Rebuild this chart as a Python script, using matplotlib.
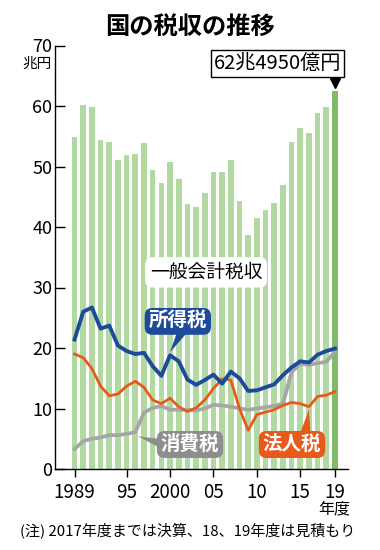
import numpy as np
import matplotlib.pyplot as plt
from matplotlib.patches import Polygon

plt.rcParams['font.family'] = ['Noto Sans CJK JP', 'DejaVu Sans']

# --- data (兆円, 年度)
years = list(range(1989, 2020))
total = [54.9, 60.1, 59.8, 54.4, 54.1, 51.0, 51.9, 52.1, 53.9, 49.4,
         47.2, 50.7, 47.9, 43.8, 43.3, 45.6, 49.1, 49.1, 51.0, 44.3,
         38.7, 41.5, 42.8, 43.9, 47.0, 54.0, 56.3, 55.5, 58.8, 59.9, 62.5]
income = [21.4, 26.0, 26.7, 23.2, 23.7, 20.4, 19.5, 19.0, 19.2, 17.0,
          15.4, 18.8, 17.8, 14.8, 13.9, 14.7, 15.6, 14.1, 16.1, 15.0,
          12.9, 13.0, 13.5, 14.0, 15.5, 16.8, 17.8, 17.6, 18.9, 19.5, 19.9]
corp = [19.0, 18.4, 16.6, 13.7, 12.1, 12.4, 13.7, 14.5, 13.5, 11.4,
        10.8, 11.7, 10.3, 9.5, 10.1, 11.4, 13.3, 14.9, 14.7, 10.0,
        6.4, 9.0, 9.4, 9.8, 10.5, 11.0, 10.8, 10.3, 12.0, 12.2, 12.8]
consumption = [3.3, 4.6, 5.0, 5.2, 5.6, 5.6, 5.8, 6.1, 9.3, 10.1,
               10.4, 9.8, 9.8, 9.8, 9.7, 10.0, 10.6, 10.5, 10.3, 10.0,
               9.8, 10.0, 10.2, 10.4, 10.8, 16.0, 17.4, 17.2, 17.5, 17.7, 19.4]
tick_years = [1989, 1995, 2000, 2005, 2010, 2015, 2019]
tick_labels = ['1989', '95', '2000', '05', '10', '15', '19']

light_green = '#b3d9a3'
dark_green = '#80bb6c'
blue = '#1c4b9b'
orange = '#e85a1a'
gray = '#a6a6a6'
gray_box = '#8e8e8e'

fig = plt.figure(figsize=(3.8, 5.5), dpi=100)
ax = fig.add_axes([55 / 380, 81 / 550, 293 / 380, 423.5 / 550])

colors = [light_green] * (len(years) - 1) + [dark_green]
ax.bar(years, total, width=0.65, color=colors, zorder=1)

ax.plot(years, consumption, color=gray, lw=2.7, zorder=3, solid_joinstyle='round')
ax.plot(years, corp, color=orange, lw=2.0, zorder=4, solid_joinstyle='round')
ax.plot(years, income, color=blue, lw=2.8, zorder=5, solid_joinstyle='round')

ax.set_xlim(1986.75, 2020.5)
ax.set_ylim(0, 70)
ax.set_yticks(range(0, 71, 10))
ax.set_xticks(tick_years)
ax.set_xticklabels(tick_labels)
ax.tick_params(axis='y', direction='in', length=7, width=1, pad=2, labelsize=13)
ax.tick_params(axis='x', direction='out', length=6, width=1, pad=3, labelsize=13.5)
for s in ['top', 'right']:
    ax.spines[s].set_visible(False)
for s in ['left', 'bottom']:
    ax.spines[s].set_linewidth(1)


def bubble(text, center, tip, base, fc):
    ax.text(center[0], center[1], text, fontsize=14, fontweight='bold', color='white',
            ha='center', va='center', zorder=7,
            bbox=dict(boxstyle='round,pad=0.2,rounding_size=0.4', fc=fc, ec='none'))
    # speech-bubble tail from the box edge to the line
    ax.add_patch(Polygon([base[0], base[1], tip], closed=True, fc=fc, ec='none', zorder=6))


# --- labels
ax.text(2004.15, 32.5, '一般会計税収', fontsize=13.5, ha='center', va='center', zorder=6,
        bbox=dict(boxstyle='round,pad=0.25,rounding_size=0.4', fc='white', ec='none'))

i = years.index(2000)
bubble('所得税', (2000.9, 24.4), (2000, income[i] + 0.5),
       [(2000.8, 22.6), (2002.0, 22.6)], blue)
i = years.index(1996)
bubble('消費税', (2002.3, 4.05), (1996.3, consumption[i] - 0.7),
       [(1998.7, 5.0), (1998.7, 3.6)], gray_box)
i = years.index(2016)
bubble('法人税', (2014.05, 4.05), (2016, corp[i] - 0.5),
       [(2014.9, 5.6), (2016.2, 5.6)], orange)

ax.text(2012.4, 67.1, '62兆4950億円', fontsize=14.5, ha='center', va='center', zorder=7,
        bbox=dict(boxstyle='square,pad=0.15', fc='white', ec='black', lw=1))
ax.plot(years[-1], total[-1] + 1.3, marker='v', ms=7, color='black', clip_on=False, zorder=7)

fig.text(190 / 380, 1 - 27 / 550, '国の税収の推移', fontsize=17.5, fontweight='bold',
         ha='center', va='center')
fig.text(52 / 380, 1 - 64 / 550, '兆円', fontsize=10.5, ha='right', va='center')
fig.text(350 / 380, 1 - 509 / 550, '年度', fontsize=11.5, ha='right', va='center')
fig.text(20 / 380, 1 - 530 / 550, '(注) 2017年度までは決算、18、19年度は見積もり',
         fontsize=10.8, ha='left', va='center')

fig.savefig('out.png', dpi=100)
